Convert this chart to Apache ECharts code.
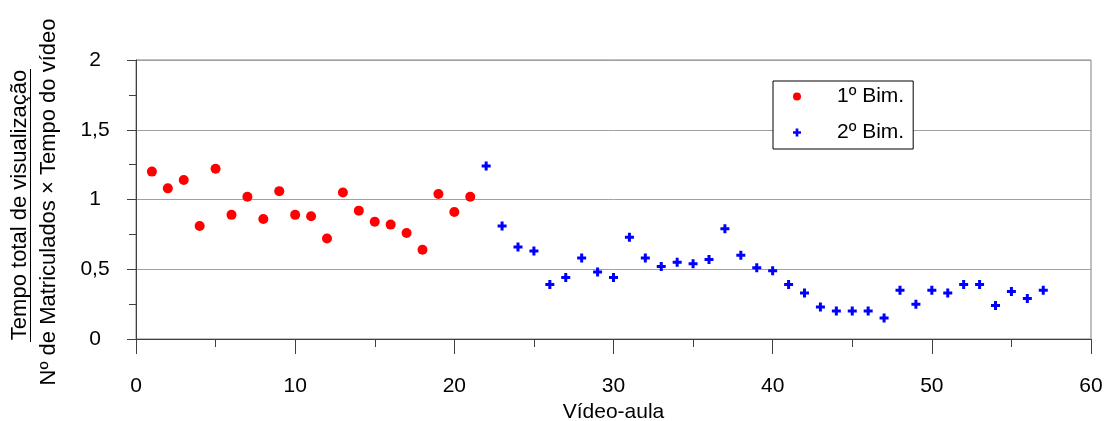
<!DOCTYPE html>
<html>
<head>
<meta charset="utf-8">
<script src="https://cdn.jsdelivr.net/npm/echarts@6/dist/echarts.min.js"></script>
<style>
html,body{margin:0;padding:0;background:#fff;}
#chart{width:1106px;height:421px;}
</style>
</head>
<body>
<div id="chart"></div>
<script>
// ---- data ----
const bim1Videos = [1,2,3,4,5,6,7,8,9,10,11,12,13,14,15,16,17,18,19,20,21];
const bim1Values = [1.20,1.08,1.14,0.81,1.22,0.89,1.02,0.86,1.06,0.89,0.88,0.72,1.05,0.92,0.84,0.82,0.76,0.64,1.04,0.91,1.02];
const bim2Videos = [22,23,24,25,26,27,28,29,30,31,32,33,34,35,36,37,38,39,40,41,42,43,44,45,46,47,48,49,50,51,52,53,54,55,56,57];
const bim2Values = [1.24,0.81,0.66,0.63,0.39,0.44,0.58,0.48,0.44,0.73,0.58,0.52,0.55,0.54,0.57,0.79,0.60,0.51,0.49,0.39,0.33,0.23,0.20,0.20,0.20,0.15,0.35,0.25,0.35,0.33,0.39,0.39,0.24,0.34,0.29,0.35];
const seriesNames = ['1º Bim.', '2º Bim.'];
const xTitle = 'Vídeo-aula';
const yTitleTop = 'Tempo total de visualização';
const yTitleBottom = 'Nº de Matriculados × Tempo do vídeo';

const FONT = "'Liberation Sans', Arial, sans-serif";
const pairs = (xs, ys) => xs.map((x, i) => [x, ys[i]]);
const plusPath = 'path://M3,0H6V3H9V6H6V9H3V6H0V3H3Z';

const chart = echarts.init(document.getElementById('chart'), null, {renderer: 'canvas'});
chart.setOption({
  animation: false,
  backgroundColor: '#ffffff',
  textStyle: {fontFamily: FONT},
  grid: {left: 136, top: 60, width: 955, height: 279, containLabel: false,
         outerBoundsMode: 'none',
         show: true, borderColor: '#808080', borderWidth: 1, backgroundColor: 'transparent'},
  xAxis: {
    type: 'value', min: 0, max: 60, interval: 10,
    name: xTitle, nameLocation: 'middle', nameGap: 61,
    nameTextStyle: {fontSize: 21, color: '#000', fontFamily: FONT},
    axisLine: {show: true, onZero: false, lineStyle: {color: '#404040', width: 1}},
    axisTick: {show: true, length: 15, lineStyle: {color: '#404040'}},
    minorTick: {show: true, splitNumber: 2, length: 8, lineStyle: {color: '#404040'}},
    axisLabel: {fontSize: 21, color: '#000', margin: 37, fontFamily: FONT},
    splitLine: {show: false}
  },
  yAxis: {
    type: 'value', min: 0, max: 2, interval: 0.5,
    axisLine: {show: true, onZero: false, lineStyle: {color: '#404040', width: 1}},
    axisTick: {show: true, length: 9, lineStyle: {color: '#404040'}},
    minorTick: {show: true, splitNumber: 2, length: 7, lineStyle: {color: '#404040'}},
    axisLabel: {fontSize: 21, color: '#000', margin: 41, align: 'center', fontFamily: FONT,
                formatter: v => String(v).replace('.', ',')},
    splitLine: {show: true, lineStyle: {color: '#a0a0a0', width: 1}}
  },
  legend: {
    show: true, orient: 'vertical', left: 773, top: 81,
    backgroundColor: '#fff', borderColor: '#000', borderWidth: 1, borderRadius: 0,
    padding: [5, 9, 6, 20], itemGap: 15, itemWidth: 8, itemHeight: 8,
    selectedMode: false,
    textStyle: {fontSize: 21, color: '#000', fontFamily: FONT, padding: [0, 0, 0, 31]},
    data: seriesNames
  },
  graphic: [
    {type: 'text', x: 20, y: 205, rotation: Math.PI / 2,
     style: {text: yTitleTop, fontSize: 22, fontFamily: FONT, fill: '#000', align: 'center', verticalAlign: 'middle'}},
    {type: 'line', shape: {x1: 30.5, y1: 69, x2: 30.5, y2: 342}, style: {stroke: '#000', lineWidth: 1}},
    {type: 'text', x: 49, y: 202, rotation: Math.PI / 2,
     style: {text: yTitleBottom, fontSize: 22, fontFamily: FONT, fill: '#000', align: 'center', verticalAlign: 'middle'}}
  ],
  series: [
    {name: seriesNames[0], type: 'scatter', data: pairs(bim1Videos, bim1Values),
     symbol: 'circle', symbolSize: 10, itemStyle: {color: '#ff0000', opacity: 1}},
    {name: seriesNames[1], type: 'scatter', data: pairs(bim2Videos, bim2Values),
     symbol: plusPath, symbolSize: 9, itemStyle: {color: '#0000ff', opacity: 1}}
  ]
});
</script>
</body>
</html>
